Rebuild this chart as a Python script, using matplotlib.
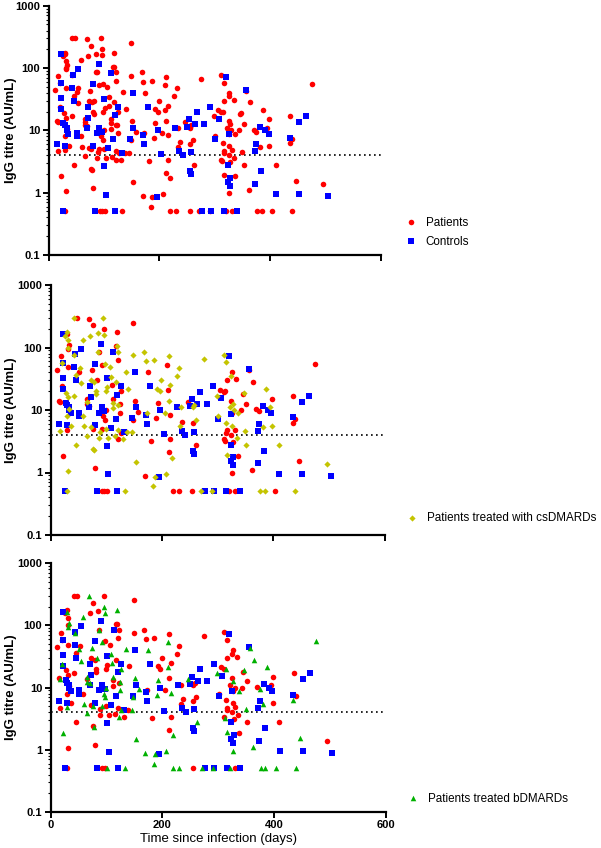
import matplotlib
matplotlib.use("Agg")
import matplotlib.pyplot as plt
import numpy as np
from matplotlib.ticker import LogLocator, NullFormatter

plt.rcParams['font.family'] = ['Liberation Sans', 'DejaVu Sans']

# ---------------- data (days since infection, IgG titre AU/mL) ----------------
# Controls
ctrl_day = [16, 22, 23, 23, 23, 27, 30, 33, 33, 30, 26, 36, 43, 44, 46, 54, 51, 51, 71, 72,
            70, 80, 80, 84, 87, 91, 92, 97, 101, 101, 104, 108, 113, 117, 120, 126, 120, 132,
            147, 152, 153, 171, 173, 179, 195, 197, 203, 228, 236, 242, 250, 254, 257, 256,
            257, 264, 268, 281, 292, 301, 307, 320, 324, 327, 328, 324, 325, 277, 293, 316,
            340, 356, 372, 373, 375, 382, 384, 391, 397, 411, 435, 452, 464, 452, 504]
ctrl_titre = [6, 165, 57, 33, 22, 13, 12, 11, 10, 5.7, 0.5, 8.8, 48, 78, 30, 96, 9, 8, 24, 16,
              11, 55, 5.7, 0.5, 9, 115, 11, 9.5, 32, 2.7, 0.93, 5.2, 84, 7.3, 17.5, 24, 0.5, 4.4,
              7.4, 40, 11, 8.4, 6, 24, 0.85, 10, 4.2, 11, 4.6, 4, 11.5, 15, 4.5, 2.2,
              2.0, 12.5, 19.5, 12.6, 24, 7.3, 15.3, 72, 1.5, 1.3, 1.75, 2.8, 8.7, 0.5, 0.5, 0.5,
              0.5, 45, 4.6, 1.4, 6, 11.5, 2.2, 10, 8.8, 0.95, 7.6, 13.5, 17, 0.95, 0.88]

# Patients treated with csDMARDs only
cs_day = [17, 29, 26, 32, 20, 31, 28, 32, 29, 33, 37, 32, 29, 42, 53, 58, 71, 73, 81, 85,
          86, 89, 95, 98, 99, 104, 119, 122, 122, 131, 140, 149, 168, 171, 173, 186, 192, 199,
          197, 205, 212, 215, 212, 227, 231, 234, 233, 256, 258, 261, 275, 301, 311, 316, 322,
          325, 330, 335, 315, 326, 352, 395, 398, 410, 496,
          46, 79, 102, 42, 82, 66, 112, 112, 73, 100, 121, 138, 88, 115, 46, 77, 106, 118]
cs_titre = [4.6, 175, 155, 130, 57, 100, 19, 16, 8, 10.5, 5.6, 1.05, 0.5, 300, 47, 8, 155, 30, 20, 170,
            85, 4.5, 300, 55, 20, 3.6, 105, 85, 12, 3.4, 22, 75, 85, 60, 9, 62, 22, 30,
            20, 9, 72, 25, 14, 35, 47, 11, 5.5, 11, 12, 7, 66, 8, 77, 58, 11,
            35, 10, 3.6, 6.3, 5.6, 2.8, 11, 5.6, 2.8, 1.37,
            36, 28, 23, 17, 18, 13.5, 13, 10.6, 5.3, 5, 4.7, 4.4, 3.6, 3.8, 2.8, 2.4, 49, 28]

# Patients treated with bDMARDs only
b_day = [17, 23, 21, 29, 32, 34, 29, 51, 65, 69, 74, 83, 87, 92, 96, 119, 95, 98, 100, 102,
         110, 112, 122, 125, 126, 148, 151, 158, 170, 175, 190, 193, 210, 211, 215, 220, 230,
         247, 262, 314, 313, 321, 326, 357, 362, 364, 375, 403, 435, 447, 475,
         66, 70, 124, 76, 92, 127]
b_titre = [13.5, 1.85, 24, 165, 95, 110, 4.8, 41, 15, 290, 43, 30, 85, 53, 200, 175, 8, 7, 10, 0.5,
           25, 15, 3.4, 9, 20, 7, 14, 9.3, 0.88, 40, 7.5, 13, 53, 21, 8.3, 0.5, 0.5,
           13.5, 2.8, 20, 3.2, 0.5, 0.97, 43, 1.1, 28, 9.5, 0.5, 6.2, 1.55, 55,
           12.4, 11.6, 12.4, 5, 5, 4.3]

# Patients treated with both csDMARDs and bDMARDs
both_day = [43, 54, 60, 59, 65, 78, 97, 109, 135, 146, 153, 133, 185, 187, 207, 219, 271, 291,
            299, 317, 327, 337, 347, 350, 381, 387, 377, 385, 440]
both_titre = [76, 27, 5.5, 134, 3.9, 2.3, 160, 34, 41, 4.4, 1.47, 0.5, 0.6, 0.85, 0.96, 1.72, 0.5, 0.5,
              17, 1.9, 12.5, 8.9, 19, 4.55, 5.4, 21.5, 0.5, 0.5, 0.5]

# Patients on neither treatment
none_day = [12, 15, 18, 32, 47, 76, 80, 93, 97, 121, 149, 181, 117, 212, 215, 237, 256, 255,
            317, 326, 334, 305, 311, 345, 325, 352, 343, 370, 398, 436, 440, 326, 317, 316,
            331, 325, 311, 328, 337, 331]
none_titre = [44, 14, 74, 48, 300, 229, 1.2, 0.5, 0.5, 62, 250, 3.2, 105, 2.1, 3.4, 6.5, 6.1, 0.5,
              30, 40, 31, 21, 19.6, 18, 14, 12.5, 10, 10.3, 15, 17, 7.2, 8.9, 4.7, 4.3,
              4.8, 4, 3.4, 3.1, 1.84, 0.5]

threshold = 4
yticks = [0.1, 1, 10, 100, 1000]
ytick_labels = ["0.1", "1", "10", "100", "1000"]
xticks = [0, 200, 400, 600]

RED = '#FF0000'
BLUE = '#0000FF'
YEL = '#C4C400'
GRN = '#00B000'

W, H = 601, 848
fig = plt.figure(figsize=(W / 100, H / 100), dpi=100)

def ax_at(l, r, t, b):
    return fig.add_axes([l / W, 1 - b / H, (r - l) / W, (b - t) / H])

axes = [ax_at(48.5, 381, 5.7, 255), ax_at(50.5, 384.5, 285, 535), ax_at(50.5, 385.5, 563, 812)]

def style(ax, xlabels):
    ax.set_yscale('log')
    ax.set_xlim(0, 600)
    ax.set_ylim(0.1, 1000)
    for s in ['top', 'right']:
        ax.spines[s].set_visible(False)
    for s in ['left', 'bottom']:
        ax.spines[s].set_linewidth(1.6)
    ax.set_yticks(yticks)
    ax.set_yticklabels(ytick_labels, fontsize=8, fontweight='bold')
    ax.yaxis.set_minor_locator(LogLocator(base=10, subs=np.arange(2, 10)))
    ax.yaxis.set_minor_formatter(NullFormatter())
    ax.set_xticks(xticks)
    if xlabels:
        ax.set_xticklabels([str(v) for v in xticks], fontsize=8, fontweight='bold')
    else:
        ax.set_xticklabels([])
    ax.tick_params(axis='both', which='major', direction='out', length=4, width=1.4, pad=2)
    ax.tick_params(axis='y', which='minor', direction='out', length=2, width=0.8)
    ax.set_ylabel('IgG titre (AU/mL)', fontsize=9.5, fontweight='bold')
    pos = ax.get_position()
    ax.yaxis.set_label_coords((17.5 - pos.x0 * W) / (pos.width * W), 0.5)
    ax.plot([0, 600], [threshold, threshold], color='black', linestyle=(0, (1, 2)),
            linewidth=1.2, zorder=1)

ms_c, ms_s, ms_d, ms_t = 16, 14, 10, 16
LEG = dict(frameon=False, fontsize=8.4, handlelength=1.2, handletextpad=0.7, borderpad=0,
           borderaxespad=0)

pat_day_all = cs_day + b_day + both_day + none_day
pat_titre_all = cs_titre + b_titre + both_titre + none_titre

# Panel 1
ax = axes[0]
style(ax, False)
h1 = ax.scatter(pat_day_all, pat_titre_all, s=ms_c, marker='o', color=RED, linewidths=0, zorder=2, label='Patients')
h2 = ax.scatter(ctrl_day, ctrl_titre, s=ms_s, marker='s', color=BLUE, linewidths=0, zorder=3, label='Controls')
ax.legend(handles=[h1, h2], loc='lower left', bbox_to_anchor=(1.068, 0.03), labelspacing=0.6, **LEG)

# Panel 2
ax = axes[1]
style(ax, False)
ax.scatter(b_day + none_day, b_titre + none_titre, s=ms_c, marker='o', color=RED, linewidths=0, zorder=2)
ax.scatter(ctrl_day, ctrl_titre, s=ms_s, marker='s', color=BLUE, linewidths=0, zorder=3)
h3 = ax.scatter(cs_day + both_day, cs_titre + both_titre, s=ms_d, marker='D', color=YEL, linewidths=0,
                zorder=4, label='Patients treated with csDMARDs')
ax.legend(handles=[h3], loc='lower left', bbox_to_anchor=(1.06, 0.045), **LEG)

# Panel 3
ax = axes[2]
style(ax, True)
ax.scatter(cs_day + none_day, cs_titre + none_titre, s=ms_c, marker='o', color=RED, linewidths=0, zorder=2)
ax.scatter(ctrl_day, ctrl_titre, s=ms_s, marker='s', color=BLUE, linewidths=0, zorder=3)
h4 = ax.scatter(b_day + both_day, b_titre + both_titre, s=ms_t, marker='^', color=GRN, linewidths=0,
                zorder=4, label='Patients treated bDMARDs')
ax.legend(handles=[h4], loc='lower left', bbox_to_anchor=(1.06, 0.03), **LEG)
ax.set_xlabel('Time since infection (days)', fontsize=9.5, labelpad=2)

fig.savefig('out.png', dpi=100)
